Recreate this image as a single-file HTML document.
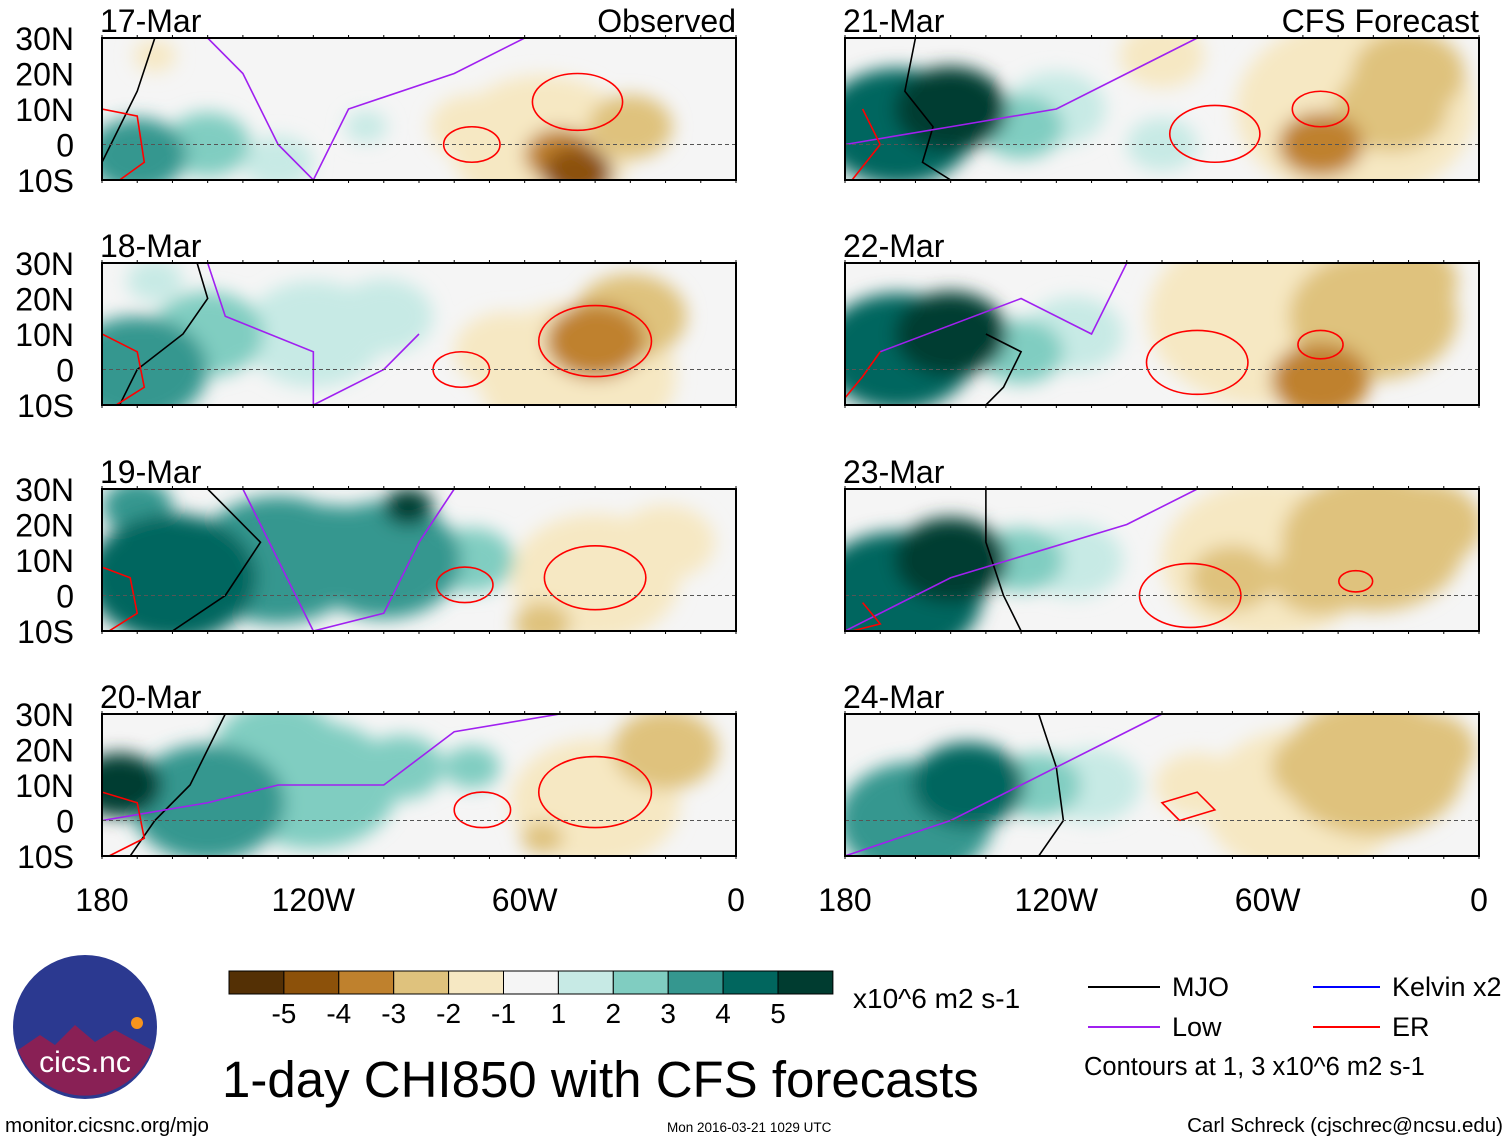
<!DOCTYPE html>
<html><head><meta charset="utf-8"><style>
body{margin:0;background:#fff;}
svg{display:block;font-family:"Liberation Sans",sans-serif;}
</style></head><body>
<svg id="chart" width="1510" height="1142" xmlns="http://www.w3.org/2000/svg">
<defs><filter id="blur" x="-50%" y="-50%" width="200%" height="200%"><feGaussianBlur stdDeviation="9"/></filter></defs>
<g id="panels"></g>
<g id="colorbar"></g>
<text x="853" y="1008" font-size="28">x10^6 m2 s-1</text>
<text x="222" y="1097" font-size="51">1-day CHI850 with CFS forecasts</text>
<g font-size="27">
<line x1="1088" y1="987" x2="1160" y2="987" stroke="#000" stroke-width="2"/><text x="1172" y="996">MJO</text>
<line x1="1088" y1="1027" x2="1160" y2="1027" stroke="#a020f0" stroke-width="2"/><text x="1172" y="1036">Low</text>
<line x1="1313" y1="987" x2="1380" y2="987" stroke="#0000ff" stroke-width="2"/><text x="1392" y="996">Kelvin x2</text>
<line x1="1313" y1="1027" x2="1380" y2="1027" stroke="#ff0000" stroke-width="2"/><text x="1392" y="1036">ER</text>
<text x="1084" y="1075" font-size="25.5">Contours at 1, 3 x10^6 m2 s-1</text>
</g>
<g>
<circle cx="85" cy="1027" r="72" fill="#2b3990"/>
<path d="M18 1050 L40 1035 L55 1045 L75 1025 L95 1042 L115 1030 L152 1050 A72 72 0 0 1 18 1050Z" fill="#c8102e" opacity="0.6"/>
<circle cx="137" cy="1023" r="6" fill="#f7941d"/>
<text x="85" y="1072" font-size="30" fill="#fff" text-anchor="middle">cics.nc</text>
</g>
<text x="5" y="1132" font-size="20.5">monitor.cicsnc.org/mjo</text>
<text x="667" y="1132" font-size="13.5">Mon 2016-03-21 1029 UTC</text>
<text x="1503" y="1132" font-size="20.5" text-anchor="end">Carl Schreck (cjschrec@ncsu.edu)</text>
</svg>
<script>
const NS="http://www.w3.org/2000/svg";
const panelTitles=["17-Mar","18-Mar","19-Mar","20-Mar","21-Mar","22-Mar","23-Mar","24-Mar"];
const latTicks=["30N","20N","10N","0","10S"];
const latVals=[30,20,10,0,-10];
const lonTicks=["180","120W","60W","0"];
const lonVals=[-180,-120,-60,0];
const cbLabels=["-5","-4","-3","-2","-1","1","2","3","4","5"];
const cbColors=["#543005","#8c510a","#bf812d","#dfc27d","#f6e8c3","#f5f5f5","#c7eae5","#80cdc1","#35978f","#01665e","#003c30"];
// blobs per panel: lon, lat, radius(deg), value
const blobLon=[
[-170,-150,-130,-55,-45,-50,-30,-165,-105,-75],
[-170,-150,-120,-45,-40,-30,-65,-165,-100],
[-160,-130,-100,-93,-75,-40,-55,-20,-170,-115],
[-175,-150,-120,-95,-75,-40,-20,-55,-130],
[-165,-150,-130,-90,-35,-45,-20,-25,-90,-120],
[-165,-150,-130,-60,-30,-45,-20,-75,-115],
[-165,-150,-130,-60,-30,-45,-70,-15,-115],
[-160,-145,-125,-50,-30,-45,-15,-80,-110]];
const blobLat=[
[-3,0,-5,0,-8,-3,5,25,5,5],
[0,10,10,-2,8,15,5,25,15],
[5,10,10,25,10,5,-8,15,25,15],
[10,5,10,15,15,5,20,-5,20],
[5,10,5,25,10,0,20,10,0,10],
[5,10,5,15,15,-3,25,15,10],
[0,10,10,10,15,5,5,20,10],
[0,10,10,5,15,15,20,10,10]];
const blobR=[
[14,12,10,26,10,10,12,6,6,12],
[20,16,20,28,14,16,15,8,14],
[24,24,22,7,12,24,8,14,10,14],
[12,22,24,12,8,24,15,6,18],
[22,16,12,12,34,12,16,16,10,14],
[22,16,12,34,24,14,14,14,14],
[24,16,12,30,26,14,12,16,14],
[22,16,12,28,26,14,14,12,14]];
const blobV=[
[3,2,1.5,-2,-5,-3.5,-2.5,-1.5,1.5,-1.5],
[3,2.5,1.5,-2,-3.5,-2.5,-1.5,1.5,1.5],
[4,3.5,3,5,2,-1.5,-3,-2,3.5,3],
[5,3,2.5,2.5,2,-2,-2.5,-3,2],
[4,5,2.5,-2,-2,-3.5,-2.5,-2.5,1.5,1.5],
[4,5,2.5,-2,-3,-3.5,-3,-2,1.5],
[4,5,2.5,-2,-3,-3,-3,-2.5,1.5],
[3,4,2.5,-2,-2.5,-3,-2.5,-2,1.5]];
// contour lines (lon/lat series): MJO black, Low purple, ER red
const mjoLon=[[-165,-170,-175,-180],[-153,-150,-157,-170,-175],[-150,-135,-145,-160],[-145,-155,-165,-172],[-160,-163,-155,-158,-150],[-140,-130,-135,-140],[-140,-140,-135,-130],[-125,-120,-118,-125]];
const mjoLat=[[30,15,5,-5],[30,20,10,0,-10],[30,15,0,-10],[30,10,0,-10],[30,15,5,-5,-10],[10,5,-5,-10],[30,15,0,-10],[30,15,0,-10]];
const lowLon=[[-150,-140,-130,-120,-110,-80,-60],[-150,-145,-120,-120,-100,-90],[-140,-135,-120,-100,-90,-80],[-180,-150,-130,-100,-80,-50],[-180,-150,-120,-100,-80],[-170,-130,-110,-100],[-180,-150,-100,-80],[-180,-150,-130,-110,-90]];
const lowLat=[[30,20,0,-10,10,20,30],[30,15,5,-10,0,10],[30,20,-10,-5,15,30],[0,5,10,10,25,30],[0,5,10,20,30],[5,20,10,30],[-10,5,20,30],[-10,0,10,20,30]];
const erLon=[[-180,-170,-168,-175],[-180,-170,-168,-176],[-180,-172,-170,-178],[-180,-170,-168,-178],[-175,-170,-178],[-170,-175,-180],[-175,-170,-178],[-85,-75,-80,-90,-85]];
const erLat=[[10,8,-5,-10],[10,5,-5,-10],[8,5,-5,-10],[8,5,-5,-10],[10,0,-10],[5,-2,-8],[-2,-8,-10],[0,3,8,5,0]];
const erELon=[[-75,-45],[-78,-40],[-77,-40],[-72,-40],[-75,-45],[-80,-45],[-82,-35],[-40]];
const erELat=[[0,12],[0,8],[3,5],[3,8],[3,10],[2,7],[0,4],[0]];
const erERad=[[5,8],[5,10],[5,9],[5,10],[8,5],[9,4],[9,3],[0]];
function mk(tag,attrs,parent){const e=document.createElementNS(NS,tag);for(const k in attrs)e.setAttribute(k,attrs[k]);parent.appendChild(e);return e;}
function color(v){const b=[-5,-4,-3,-2,-1,1,2,3,4,5];let i=0;while(i<b.length&&v>=b[i])i++;return cbColors[i];}
const root=document.getElementById('panels');
const PW=634,PH=142,cols=[102,845],rows=[38,263,489,714];
panelTitles.forEach((t,p)=>{
 const x0=cols[Math.floor(p/4)],y0=rows[p%4];
 const X=lon=>x0+(lon+180)/180*PW, Y=lat=>y0+(30-lat)/40*PH;
 const g=mk('g',{},root);
 
 
 mk('clipPath',{id:'c'+p},g).appendChild(document.createElementNS(NS,'rect'));
 const cr=g.querySelector('clipPath rect');cr.setAttribute('x',x0);cr.setAttribute('y',y0);cr.setAttribute('width',PW);cr.setAttribute('height',PH);
 mk('rect',{x:x0,y:y0,width:PW,height:PH,fill:'#f5f5f5'},g);
 const inner=mk('g',{'clip-path':'url(#c'+p+')'},g);
 const fg=mk('g',{filter:'url(#blur)'},inner);
 const idx=blobV[p].map((v,i)=>i).sort((a,b)=>Math.abs(blobV[p][a])-Math.abs(blobV[p][b]));
 idx.forEach(i=>{const r=blobR[p][i];
  const e=mk('ellipse',{cx:X(blobLon[p][i]),cy:Y(blobLat[p][i]),rx:r/180*PW,ry:r/40*PH*0.75,fill:color(blobV[p][i])},fg);
  
  });
 const line=(lo,la,col)=>{const l=mk('polyline',{points:lo.map((v,i)=>X(v)+','+Y(la[i])).join(' '),fill:'none',stroke:col,'stroke-width':1.6},inner);
  
  };
 line(mjoLon[p],mjoLat[p],'#000');line(lowLon[p],lowLat[p],'#a020f0');line(erLon[p],erLat[p],'#f00');
 erELon[p].forEach((lo,i)=>{if(erERad[p][i]>0){mk('ellipse',{cx:X(lo),cy:Y(erELat[p][i]),rx:erERad[p][i]/180*PW*1.6,ry:erERad[p][i]/40*PH,fill:'none',stroke:'#f00','stroke-width':1.6},inner);}});
 mk('line',{x1:x0,y1:Y(0),x2:x0+PW,y2:Y(0),stroke:'#555','stroke-dasharray':'4,3','stroke-width':1},inner);
 mk('rect',{x:x0,y:y0,width:PW,height:PH,fill:'none',stroke:'#000','stroke-width':2},g);
 for(let l=-180;l<=0;l+=10){mk('line',{x1:X(l),y1:y0,x2:X(l),y2:y0-3,stroke:'#000'},g);mk('line',{x1:X(l),y1:y0+PH,x2:X(l),y2:y0+PH+3,stroke:'#000'},g);}
 const tt=mk('text',{x:x0-2,y:y0-6,'font-size':32},g);tt.textContent=t;
 
 
 if(p==0||p==4){const s=mk('text',{x:x0+PW,y:y0-6,'font-size':32,'text-anchor':'end'},g);s.textContent=p==0?'Observed':'CFS Forecast';}
 if(p<4){latTicks.forEach((lt,i)=>{const s=mk('text',{x:74,y:Y(latVals[i])+12,'font-size':32,'text-anchor':'end'},g);s.textContent=lt;});}
 if(p%4==3){lonTicks.forEach((lt,i)=>{const s=mk('text',{x:X(lonVals[i]),y:911,'font-size':32,'text-anchor':'middle'},g);s.textContent=lt;
  
  });}
});
const cb=document.getElementById('colorbar');
cbColors.forEach((c,i)=>{mk('rect',{x:229+i*54.9,y:971,width:54.9,height:23,fill:c,stroke:'#000','stroke-width':1},cb);});
cbLabels.forEach((l,i)=>{const s=mk('text',{x:229+(i+1)*54.9,y:1023,'font-size':28,'text-anchor':'middle'},cb);s.textContent=l;});
</script>
</body></html>
